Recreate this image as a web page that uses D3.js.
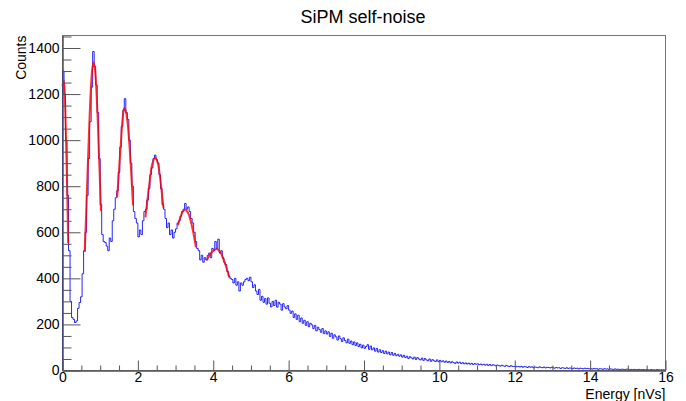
<!DOCTYPE html>
<html>
<head>
<meta charset="utf-8">
<script src="https://cdn.jsdelivr.net/npm/d3@7"></script>
<style>
  html, body { margin: 0; padding: 0; background: #fff; }
  svg { display: block; }
  text { font-family: "Liberation Sans", Arial, Helvetica, sans-serif; fill: #000; }
</style>
</head>
<body>
<svg id="chart" width="686" height="401"></svg>
<script>
// ---------------- data ----------------
const title = "SiPM self-noise";
const xTitle = "Energy [nVs]";
const yTitle = "Counts";
const xDomain = [0, 16];
const binStart = 0;
const binWidth = 0.04;
const xTickValues = [0, 2, 4, 6, 8, 10, 12, 14, 16];
const yTickValues = [0, 200, 400, 600, 800, 1000, 1200, 1400];

// histogram counts, one per bin of width 0.04 starting at 0
const counts = [
  // 0.00 - 0.96
  1300,1200,1000,760,520,300,230,222,208,215,270,295,320,420,520,600,760,920,1080,1230,1385,1320,1240,1120,920,
  // 1.00 - 1.96
  720,590,560,555,540,520,575,560,650,700,750,780,860,970,1060,1130,1180,1120,1090,1000,900,800,690,660,640,
  // 2.00 - 2.96
  580,610,590,650,690,700,740,790,850,880,920,935,915,900,850,790,720,700,660,620,640,590,610,575,600,
  // 3.00 - 3.96
  615,640,650,670,690,700,725,700,710,690,660,640,600,560,530,520,480,500,470,490,480,500,510,490,530,
  // 4.00 - 4.96
  520,560,530,570,510,520,490,470,460,430,410,400,395,380,400,370,385,345,380,370,385,395,400,390,405,
  // 5.00 - 5.96
  385,360,372,345,330,352,305,322,296,312,288,315,292,276,300,282,305,275,296,288,262,290,276,268,282,
  // 6.00 - 6.96
  262,248,258,230,246,222,240,212,228,205,218,196,212,190,205,198,182,196,172,188,178,166,182,160,172,
  // 7.00 - 7.96
  158,168,148,162,140,155,146,132,150,138,126,142,130,120,136,118,128,112,124,108,120,104,114,98,110,
  // 8.00 - 8.96
  96,104,112,92,106,90,98,84,96,80,90,78,86,74,84,72,80,68,78,66,74,64,70,62,68,
  // 9.00 - 9.96
  58,66,56,62,52,60,55,50,58,48,56,50,46,54,44,52,46,42,50,40,47,42,39,46,38,
  // 10.00 - 10.96
  44,38,42,36,41,35,39,33,38,34,31,37,32,36,30,34,29,33,28,32,27,31,26,30,27,
  // 11.00 - 11.96
  29,25,28,24,27,23,27,22,26,21,25,23,20,24,21,19,23,20,18,22,19,17,21,18,17,
  // 12.00 - 12.96
  19,16,18,15,18,14,17,16,13,17,14,16,12,15,14,12,16,13,12,15,11,14,13,11,14,
  // 13.00 - 13.96
  12,10,13,11,12,9,12,11,9,12,9,11,10,8,11,9,10,7,10,9,7,10,8,9,7,
  // 14.00 - 14.96
  8,6,9,7,8,5,8,7,5,8,6,7,5,7,6,4,7,5,6,4,5,6,4,5,6,
  // 15.00 - 15.96
  5,3,5,4,5,3,4,5,3,4,4,2,4,3,2,4,3,3,2,4,3,2,3,3,2
];

// fitted peak curves (red): [x, counts]
const fitPedestal = [[0,1235],[0.035,1260],[0.07,1150],[0.1,960],[0.125,783],[0.15,552]];
const fitPeak1 = [[0.59,515],[0.63,693],[0.67,883],[0.71,1064],[0.75,1214],[0.79,1310],[0.825,1338],[0.86,1310],[0.9,1214],[0.94,1064],[0.98,883],[1.02,693]];
const fitPeak2 = [[1.45,752],[1.5,870],[1.55,990],[1.6,1100],[1.64,1140],[1.68,1125],[1.73,1070],[1.78,970],[1.83,840],[1.87,717]];
const fitPeak3 = [[2.2,665],[2.26,750],[2.32,830],[2.38,895],[2.46,925],[2.53,900],[2.58,850],[2.63,780],[2.68,705]];
const fitPeak4 = [[3.06,630],[3.12,660],[3.19,690],[3.26,698],[3.33,685],[3.4,650],[3.47,600],[3.54,535]];
const fitPeak5 = [[3.83,478],[3.9,500],[4.0,520],[4.1,527],[4.2,510],[4.3,470],[4.43,404]];
const fitSegments = [fitPedestal, fitPeak1, fitPeak2, fitPeak3, fitPeak4, fitPeak5];

// ---------------- layout ----------------
const W = 686, H = 401;
const mLeft = 62.5, mRight = 665.5, mTop = 35.5, mBottom = 370.5;
const svg = d3.select("#chart");
svg.append("rect").attr("width", W).attr("height", H).attr("fill", "#fff");

const yMax = d3.max(counts) * 1.05;
const x = d3.scaleLinear().domain(xDomain).range([mLeft, mRight]);
const y = d3.scaleLinear().domain([0, yMax]).range([mBottom, mTop]);

const axisColor = "#555";

// frame
svg.append("rect")
  .attr("x", mLeft).attr("y", mTop)
  .attr("width", mRight - mLeft).attr("height", mBottom - mTop)
  .attr("fill", "none").attr("stroke", "#777").attr("stroke-width", 1);

// histogram step path
const bins = counts.map((c, i) => ({x0: binStart + i * binWidth, x1: binStart + (i + 1) * binWidth, c}));
const p = d3.path();
p.moveTo(x(bins[0].x0), y(0));
bins.forEach(b => {
  p.lineTo(x(b.x0), y(b.c));
  p.lineTo(x(b.x1), y(b.c));
});
svg.append("path")
  .attr("d", p.toString())
  .attr("fill", "none")
  .attr("stroke", "#0000ff")
  .attr("stroke-opacity", 0.85)
  .attr("stroke-width", 1);

// fit curves
const line = d3.line().x(d => x(d[0])).y(d => y(d[1])).curve(d3.curveCatmullRom.alpha(0.5));
fitSegments.forEach(seg => {
  svg.append("path")
    .attr("d", line(seg))
    .attr("fill", "none")
    .attr("stroke", "#ff0000")
    .attr("stroke-opacity", 0.8)
    .attr("stroke-width", 2);
});

// x axis
const xMinor = d3.range(0, 16.0001, 0.5).filter(v => Math.abs(v / 2 - Math.round(v / 2)) > 1e-6);
const xAxisMajor = d3.axisBottom(x).tickValues(xTickValues).tickSizeInner(-10).tickSizeOuter(0).tickPadding(2).tickFormat(d3.format("d"));
const gx = svg.append("g").attr("transform", `translate(0,${mBottom})`).call(xAxisMajor);
const xAxisMinor = d3.axisBottom(x).tickValues(xMinor).tickSizeInner(-5).tickSizeOuter(0).tickFormat("");
const gx2 = svg.append("g").attr("transform", `translate(0,${mBottom})`).call(xAxisMinor);

// y axis
const yMinor = d3.range(0, yMax, 50).filter(v => v % 200 !== 0);
const yAxisMajor = d3.axisLeft(y).tickValues(yTickValues).tickSizeInner(-18).tickSizeOuter(0).tickPadding(3).tickFormat(d3.format("d"));
const gy = svg.append("g").attr("transform", `translate(${mLeft},0)`).call(yAxisMajor);
const yAxisMinor = d3.axisLeft(y).tickValues(yMinor).tickSizeInner(-9).tickSizeOuter(0).tickFormat("");
const gy2 = svg.append("g").attr("transform", `translate(${mLeft},0)`).call(yAxisMinor);

[gx, gx2, gy, gy2].forEach(g => {
  g.select(".domain").attr("stroke", axisColor);
  g.selectAll(".tick line").attr("stroke", axisColor);
  g.selectAll(".tick text")
    .style("font-family", '"Liberation Sans", Arial, sans-serif')
    .style("font-size", "14px")
    .attr("fill", "#000");
});

// titles
svg.append("text")
  .attr("x", 363).attr("y", 23)
  .attr("text-anchor", "middle")
  .style("font-size", "18px")
  .text(title);

svg.append("text")
  .attr("x", mRight).attr("y", 398.5)
  .attr("text-anchor", "end")
  .style("font-size", "14px")
  .text(xTitle);

svg.append("text")
  .attr("transform", `translate(26,${mTop}) rotate(-90)`)
  .attr("text-anchor", "end")
  .style("font-size", "14px")
  .text(yTitle);
</script>
</body>
</html>
